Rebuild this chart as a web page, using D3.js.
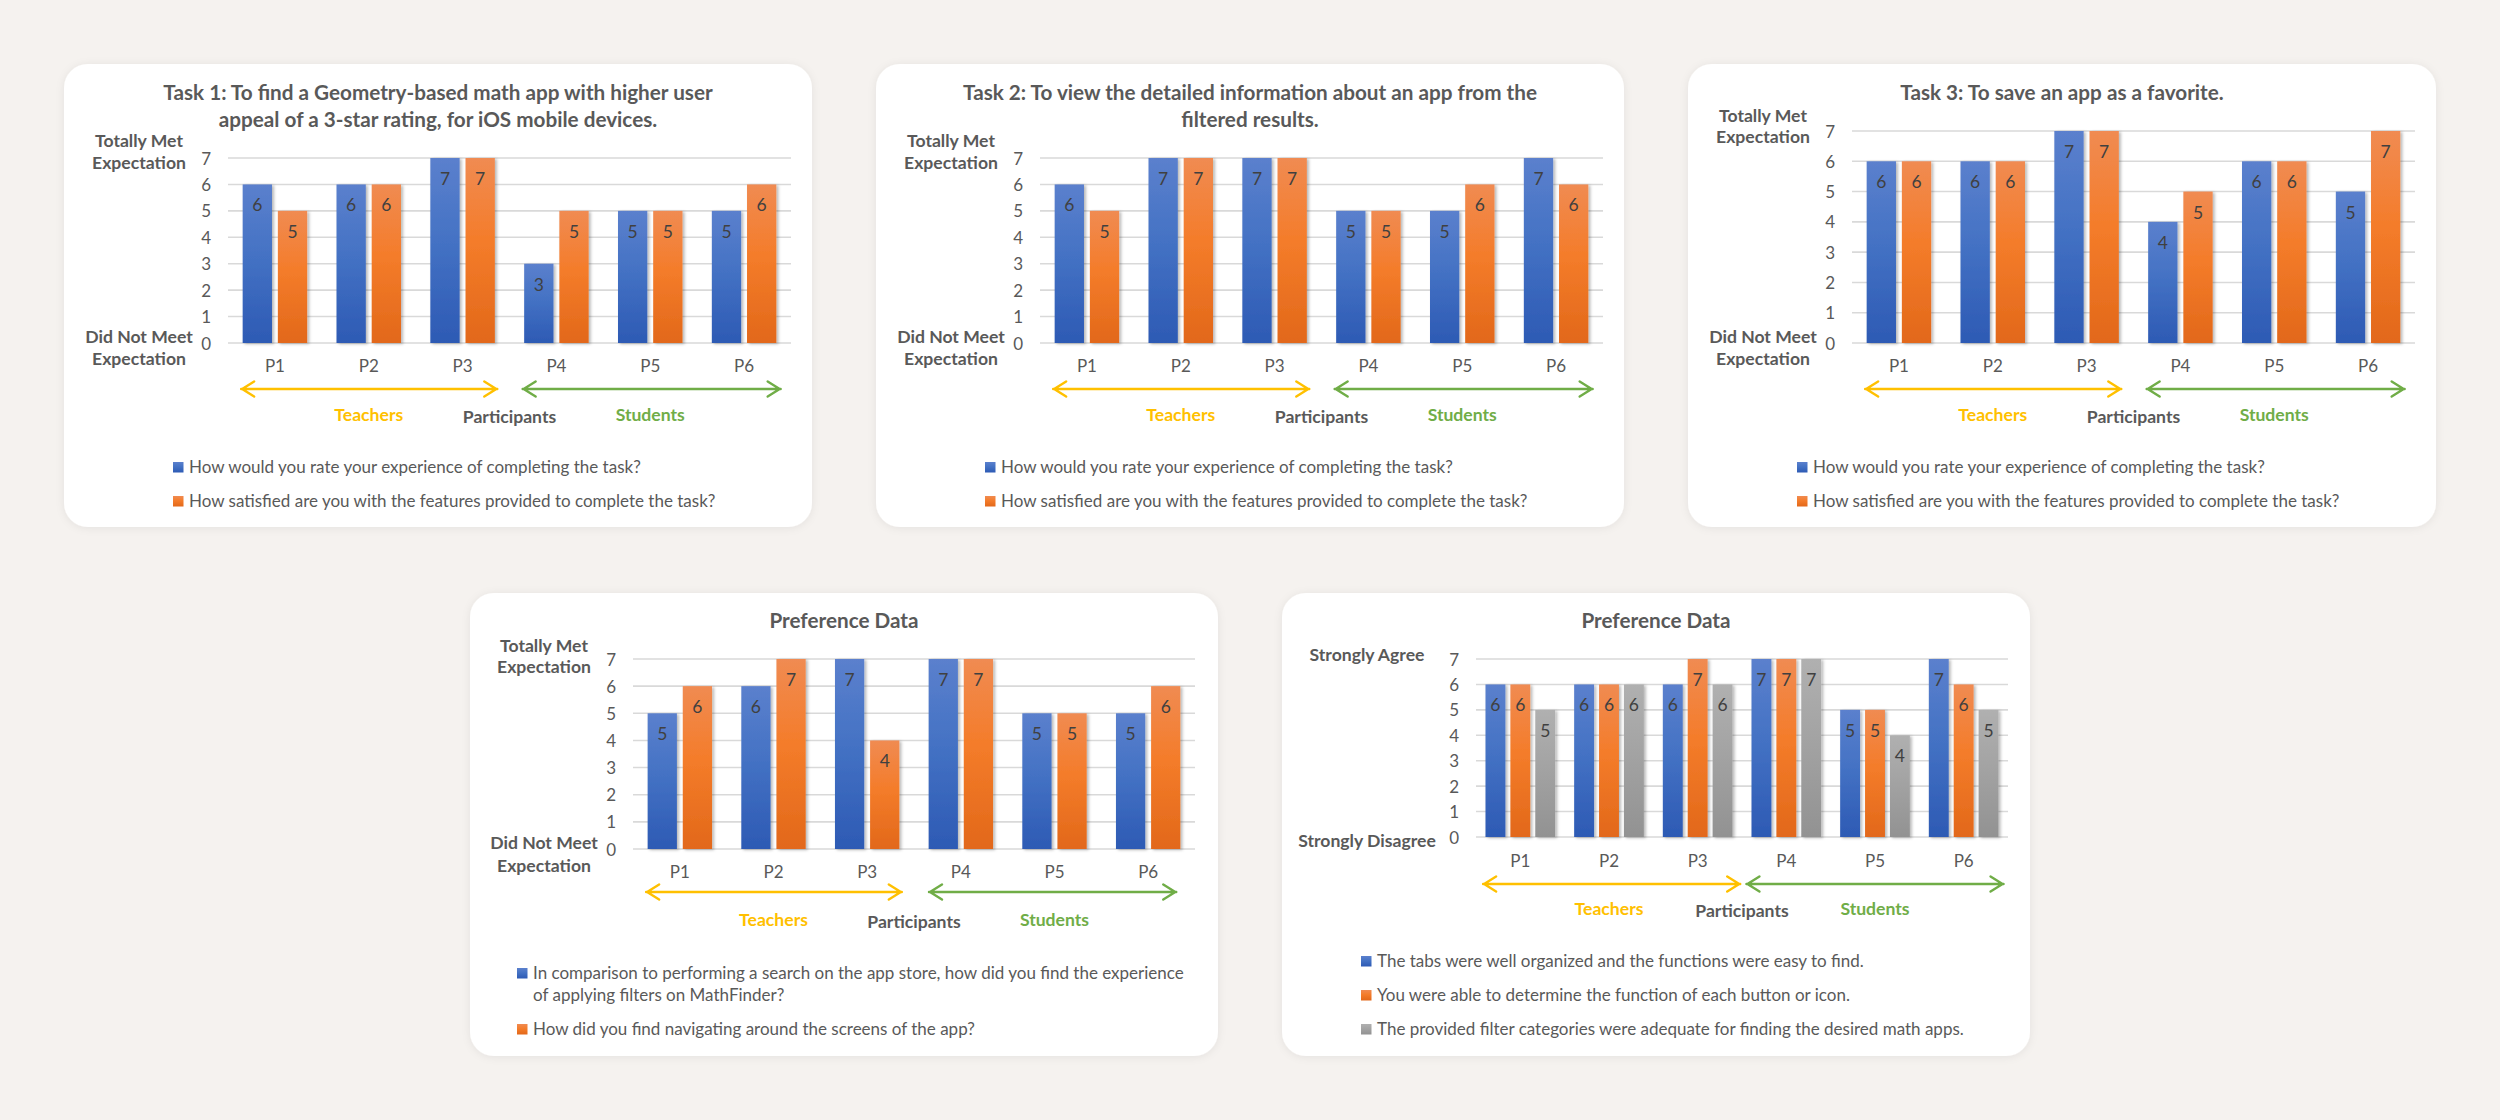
<!DOCTYPE html>
<html>
<head>
<meta charset="utf-8">
<script src="https://cdn.jsdelivr.net/npm/d3@7"></script>
<style>
  html, body { margin: 0; padding: 0; background: #f5f2ef; }
  svg { display: block; font-family: Lato, "Open Sans", sans-serif; }
</style>
</head>
<body>
<svg id="chart" width="2500" height="1120"></svg>
<script>
// ---------------- DATA ----------------
const categories = ["P1", "P2", "P3", "P4", "P5", "P6"];
const yTicks = [0, 1, 2, 3, 4, 5, 6, 7];

const task1Experience   = [6, 6, 7, 3, 5, 5];
const task1Satisfaction = [5, 6, 7, 5, 5, 6];

const task2Experience   = [6, 7, 7, 5, 5, 7];
const task2Satisfaction = [5, 7, 7, 5, 6, 6];

const task3Experience   = [6, 6, 7, 4, 6, 5];
const task3Satisfaction = [6, 6, 7, 5, 6, 7];

const prefFilters    = [5, 6, 7, 7, 5, 5];
const prefNavigating = [6, 7, 4, 7, 5, 6];

const prefTabs       = [6, 6, 6, 7, 5, 7];
const prefButtons    = [6, 6, 7, 7, 5, 6];
const prefCategories = [5, 6, 6, 7, 4, 5];

const taskLegend = [
  ["How would you rate your experience of completing the task?"],
  ["How satisfied are you with the features provided to complete the task?"]
];
const pref1Legend = [
  ["In comparison to performing a search on the app store, how did you find the experience",
   "of applying filters on MathFinder?"],
  ["How did you find navigating around the screens of the app?"]
];
const pref2Legend = [
  ["The tabs were well organized and the functions were easy to find."],
  ["You were able to determine the function of each button or icon."],
  ["The provided filter categories were adequate for finding the desired math apps."]
];

const titles = [
  ["Task 1: To find a Geometry-based math app with higher user", "appeal of a 3-star rating, for iOS mobile devices."],
  ["Task 2: To view the detailed information about an app from the", "filtered results."],
  ["Task 3: To save an app as a favorite."],
  ["Preference Data"],
  ["Preference Data"]
];
const metLabels = { top: ["Totally Met", "Expectation"], bottom: ["Did Not Meet", "Expectation"] };
const agreeLabels = { top: ["Strongly Agree"], bottom: ["Strongly Disagree"] };
const groupLabels = { teachers: "Teachers", participants: "Participants", students: "Students" };

// ---------------- STYLE ----------------
const seriesColors = {
  blue:   ["#5b80cd", "#4472c4", "#2d5ab4"],
  orange: ["#f08b52", "#f47c2a", "#e2681a"],
  grey:   ["#b0b0b0", "#a3a3a3", "#929292"]
};
const textGrey = "#595959";
const labelDark = "#404040";
const yellow = "#ffc000";
const green = "#70ad47";

// ---------------- LAYOUT ----------------
const CW = 748, CH = 463;
const taskBase = {
  titleY: [36, 63], plotTop: 94, plotBottom: 279, gridX0: 164, gridX1: 727,
  labels: metLabels, topLabelY: [83, 105], bottomLabelY: [279, 301], sideX: 75,
  catY: 308, arrowY: 325, groupY: 357,
  legendX: 109, legendY: [[409], [443]], legendFont: 17,
  yellowSpan: [0.14, 2.87], greenSpan: [3.14, 5.89],
  groupPad: 0.3125, seriesPad: 0.1667
};
const cards = [
  Object.assign({}, taskBase, { x: 64, y: 64, title: titles[0],
    series: [task1Experience, task1Satisfaction], colors: ["blue", "orange"], legend: taskLegend }),
  Object.assign({}, taskBase, { x: 876, y: 64, title: titles[1],
    series: [task2Experience, task2Satisfaction], colors: ["blue", "orange"], legend: taskLegend }),
  Object.assign({}, taskBase, { x: 1688, y: 64, title: titles[2], titleY: [36],
    plotTop: 67, topLabelY: [58, 79],
    series: [task3Experience, task3Satisfaction], colors: ["blue", "orange"], legend: taskLegend }),
  Object.assign({}, taskBase, { x: 470, y: 593, title: titles[3], titleY: [35],
    plotTop: 66, plotBottom: 256, gridX0: 163, gridX1: 725,
    topLabelY: [59, 80], bottomLabelY: [256, 279], sideX: 74,
    catY: 285, arrowY: 299, groupY: 333,
    legendX: 47, legendY: [[386, 408], [442]],
    yellowSpan: [0.14, 2.87], greenSpan: [3.16, 5.8],
    series: [prefFilters, prefNavigating], colors: ["blue", "orange"], legend: pref1Legend }),
  Object.assign({}, taskBase, { x: 1282, y: 593, title: titles[4], titleY: [35],
    plotTop: 66, plotBottom: 244, gridX0: 194, gridX1: 726,
    labels: agreeLabels, topLabelY: [68], bottomLabelY: [254], sideX: 85,
    catY: 274, arrowY: 291, groupY: 322,
    legendX: 79, legendY: [[374], [408], [442]],
    yellowSpan: [0.08, 2.98], greenSpan: [3.05, 5.95],
    groupPad: 0.214, seriesPad: 0.2,
    series: [prefTabs, prefButtons, prefCategories], colors: ["blue", "orange", "grey"], legend: pref2Legend })
];

// ---------------- DRAW ----------------
const svg = d3.select("#chart");
const defs = svg.append("defs");

Object.entries(seriesColors).forEach(([name, stops]) => {
  const g = defs.append("linearGradient").attr("id", "grad-" + name)
    .attr("x1", 0).attr("y1", 0).attr("x2", 0).attr("y2", 1);
  g.append("stop").attr("offset", "0%").attr("stop-color", stops[0]);
  g.append("stop").attr("offset", "45%").attr("stop-color", stops[1]);
  g.append("stop").attr("offset", "100%").attr("stop-color", stops[2]);
});
const cardShadow = defs.append("filter").attr("id", "cardShadow")
  .attr("x", "-5%").attr("y", "-5%").attr("width", "110%").attr("height", "110%");
cardShadow.append("feDropShadow").attr("dx", 0).attr("dy", 1).attr("stdDeviation", 4)
  .attr("flood-color", "#000").attr("flood-opacity", 0.07);
const barShadow = defs.append("filter").attr("id", "barShadow")
  .attr("x", "-30%").attr("y", "-10%").attr("width", "160%").attr("height", "120%");
barShadow.append("feDropShadow").attr("dx", 2).attr("dy", 1).attr("stdDeviation", 1.6)
  .attr("flood-color", "#000").attr("flood-opacity", 0.28);

function drawArrow(g, x0, x1, y, color) {
  const h = 7.5, w = 13;
  g.append("path")
    .attr("d", `M${x0},${y}H${x1}M${x0 + w},${y - h}L${x0 + 1},${y}L${x0 + w},${y + h}M${x1 - w},${y - h}L${x1 - 1},${y}L${x1 - w},${y + h}`)
    .attr("fill", "none").attr("stroke", color).attr("stroke-width", 2.4)
    .attr("stroke-linecap", "round").attr("stroke-linejoin", "round");
}

cards.forEach(c => {
  const g = svg.append("g").attr("transform", `translate(${c.x},${c.y})`);
  g.append("rect").attr("width", CW).attr("height", CH).attr("rx", 24)
    .attr("fill", "#ffffff").attr("filter", "url(#cardShadow)");

  // title
  c.title.forEach((line, i) => {
    g.append("text").attr("x", CW / 2).attr("y", c.titleY[i])
      .attr("text-anchor", "middle").attr("font-size", 20.7).attr("font-weight", 700)
      .attr("fill", textGrey).text(line);
  });

  const y = d3.scaleLinear().domain([0, 7]).range([c.plotBottom, c.plotTop]);
  const x0 = d3.scaleBand().domain(categories).range([c.gridX0, c.gridX1])
    .paddingInner(c.groupPad).paddingOuter(c.groupPad / 2);
  const x1 = d3.scaleBand().domain(d3.range(c.series.length)).range([0, x0.bandwidth()])
    .paddingInner(c.seriesPad);
  const catUnit = d3.scaleLinear().domain([0, categories.length]).range([c.gridX0, c.gridX1]);

  // gridlines
  g.append("g").selectAll("line").data(yTicks).join("line")
    .attr("x1", c.gridX0).attr("x2", c.gridX1)
    .attr("y1", d => y(d)).attr("y2", d => y(d))
    .attr("stroke", "#d9d9d9").attr("stroke-width", 1.6);

  // y axis labels
  const yAxis = d3.axisLeft(y).tickValues(yTicks).tickSize(0).tickPadding(0).tickFormat(d3.format("d"));
  const ya = g.append("g").attr("transform", `translate(${c.gridX0 - 17},0)`).call(yAxis);
  ya.select(".domain").remove();
  ya.selectAll("text").attr("font-size", 17).attr("fill", textGrey)
    .attr("font-family", "Lato, sans-serif").attr("dy", "0.36em");

  // side labels
  c.labels.top.forEach((t, i) => g.append("text").attr("x", c.sideX).attr("y", c.topLabelY[i])
    .attr("text-anchor", "middle").attr("font-size", 17.6).attr("font-weight", 700)
    .attr("fill", textGrey).text(t));
  c.labels.bottom.forEach((t, i) => g.append("text").attr("x", c.sideX).attr("y", c.bottomLabelY[i])
    .attr("text-anchor", "middle").attr("font-size", 17.6).attr("font-weight", 700)
    .attr("fill", textGrey).text(t));

  // bars
  const groups = g.append("g").selectAll("g").data(categories).join("g")
    .attr("transform", d => `translate(${x0(d)},0)`);
  groups.each(function (cat, ci) {
    const gg = d3.select(this);
    c.series.forEach((vals, si) => {
      gg.append("rect")
        .attr("x", x1(si)).attr("width", x1.bandwidth())
        .attr("y", y(vals[ci])).attr("height", y(0) - y(vals[ci]))
        .attr("fill", `url(#grad-${c.colors[si]})`).attr("filter", "url(#barShadow)");
    });
    c.series.forEach((vals, si) => {
      gg.append("text")
        .attr("x", x1(si) + x1.bandwidth() / 2).attr("y", y(vals[ci]) + 27)
        .attr("text-anchor", "middle").attr("font-size", 17.5).attr("fill", labelDark)
        .text(vals[ci]);
    });
  });

  // category axis labels
  const xAxis = d3.axisBottom(x0).tickSize(0).tickPadding(0);
  const xa = g.append("g").attr("transform", `translate(0,${c.catY})`).call(xAxis);
  xa.select(".domain").remove();
  xa.selectAll("text").attr("font-size", 17).attr("fill", textGrey)
    .attr("font-family", "Lato, sans-serif").attr("dy", 0);

  // group arrows and labels
  drawArrow(g, catUnit(c.yellowSpan[0]), catUnit(c.yellowSpan[1]), c.arrowY, yellow);
  drawArrow(g, catUnit(c.greenSpan[0]), catUnit(c.greenSpan[1]), c.arrowY, green);
  g.append("text").attr("x", x0("P2") + x0.bandwidth() / 2).attr("y", c.groupY)
    .attr("text-anchor", "middle").attr("font-size", 17.6).attr("font-weight", 700)
    .attr("fill", yellow).text(groupLabels.teachers);
  g.append("text").attr("x", x0("P5") + x0.bandwidth() / 2).attr("y", c.groupY)
    .attr("text-anchor", "middle").attr("font-size", 17.6).attr("font-weight", 700)
    .attr("fill", green).text(groupLabels.students);
  g.append("text").attr("x", catUnit(3)).attr("y", c.groupY + 2)
    .attr("text-anchor", "middle").attr("font-size", 17.6).attr("font-weight", 700)
    .attr("fill", textGrey).text(groupLabels.participants);

  // legend
  c.legend.forEach((lines, i) => {
    const base = c.legendY[i][0];
    g.append("rect").attr("x", c.legendX).attr("y", base - 11).attr("width", 10.5).attr("height", 10.5)
      .attr("fill", `url(#grad-${c.colors[i]})`);
    lines.forEach((ln, j) => {
      g.append("text").attr("x", c.legendX + 16).attr("y", c.legendY[i][j] !== undefined ? c.legendY[i][j] : base + 22 * j)
        .attr("font-size", c.legendFont).attr("fill", textGrey).text(ln);
    });
  });
});
</script>
</body>
</html>
